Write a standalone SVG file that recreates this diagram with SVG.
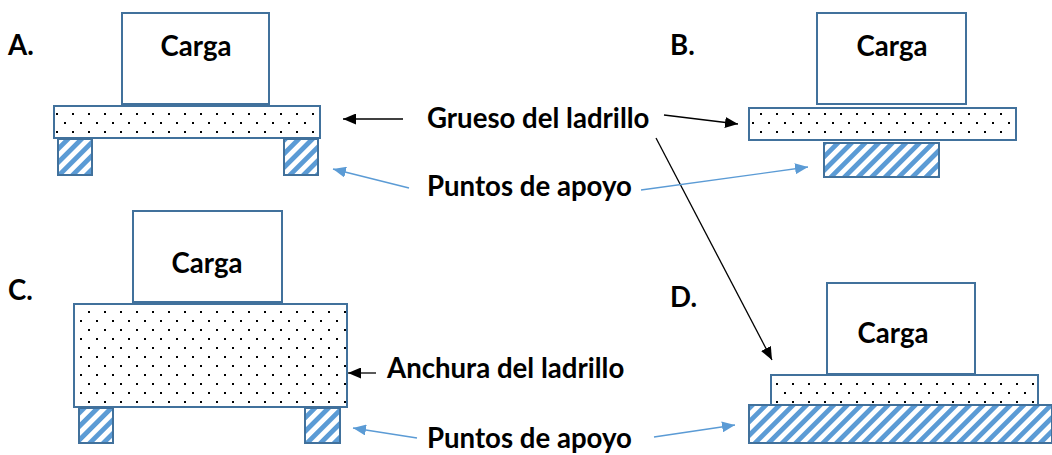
<svg xmlns="http://www.w3.org/2000/svg" width="1052" height="455" viewBox="0 0 1052 455">
<style>
.bx{fill:#fff;stroke:#41719C;stroke-width:2}
.brick{fill:url(#dots);stroke:#41719C;stroke-width:2}
.sup{fill:url(#hatch);stroke:#41719C;stroke-width:2}
.t{font-family:Lato,"Liberation Sans",sans-serif;font-weight:bold;font-size:27.6px;fill:#000}
.ca{text-anchor:middle}
.ak{stroke:#000;stroke-width:1.3;fill:none;marker-end:url(#ahk)}
.ab{stroke:#5B9BD5;stroke-width:1.3;fill:none;marker-end:url(#ahb)}
</style>
<defs>
<pattern id="dots" patternUnits="userSpaceOnUse" width="16" height="18" x="2" y="0">
<rect width="16" height="18" fill="#fff"/>
<rect x="6" y="5" width="2" height="2" fill="#000"/>
<rect x="14" y="14" width="2" height="2" fill="#000"/>
</pattern>
<pattern id="hatch" patternUnits="userSpaceOnUse" width="9.6" height="9.6" patternTransform="rotate(45)">
<rect width="9.6" height="9.6" fill="#fff"/>
<rect width="4.8" height="9.6" fill="#5B9BD5"/>
</pattern>
<marker id="ahk" markerWidth="13" markerHeight="11" refX="13" refY="5.5" orient="auto" markerUnits="userSpaceOnUse">
<path d="M0,0 L13,5.5 L0,11 Z" fill="#000"/>
</marker>
<marker id="ahb" markerWidth="13" markerHeight="11" refX="13" refY="5.5" orient="auto" markerUnits="userSpaceOnUse">
<path d="M0,0 L13,5.5 L0,11 Z" fill="#5B9BD5"/>
</marker>
</defs>
<rect width="1052" height="455" fill="#fff"/>

<g id="A">
<text class="t" x="8" y="55">A.</text>
<rect class="bx" x="122" y="13" width="147" height="91"/>
<text class="t ca" x="196" y="56">Carga</text>
<rect class="brick" x="54" y="106" width="266" height="32"/>
<rect class="sup" x="58" y="139" width="34" height="36"/>
<rect class="sup" x="284" y="139" width="34" height="36"/>
</g>

<g id="B">
<text class="t" x="670" y="55">B.</text>
<rect class="bx" x="817" y="13" width="149" height="91"/>
<text class="t ca" x="892" y="56">Carga</text>
<rect class="brick" x="749" y="108" width="267" height="32"/>
<rect class="sup" x="824" y="143" width="115" height="34"/>
</g>

<g id="C">
<text class="t" x="8" y="300">C.</text>
<rect class="bx" x="133" y="211" width="149" height="91"/>
<text class="t ca" x="207" y="273">Carga</text>
<rect class="brick" x="74" y="304" width="273" height="103"/>
<rect class="sup" x="79" y="408" width="34" height="35"/>
<rect class="sup" x="305" y="408" width="35" height="35"/>
</g>

<g id="D">
<text class="t" x="670" y="307">D.</text>
<rect class="bx" x="827" y="283" width="148" height="91"/>
<text class="t ca" x="893" y="343">Carga</text>
<rect class="brick" x="771" y="375" width="267" height="30"/>
<rect class="sup" x="749" y="405" width="303" height="38"/>
</g>

<g id="labels">
<text class="t" x="427" y="128">Grueso del ladrillo</text>
<text class="t" x="427" y="196">Puntos de apoyo</text>
<text class="t" x="387" y="378">Anchura del ladrillo</text>
<text class="t" x="427" y="448">Puntos de apoyo</text>
</g>

<g id="connectors">
<line class="ak" x1="403" y1="119" x2="343" y2="119"/>
<line class="ak" x1="664" y1="115" x2="738" y2="124"/>
<line class="ak" x1="656" y1="138" x2="772" y2="360"/>
<line class="ak" x1="376" y1="373" x2="348" y2="373"/>
<line class="ab" x1="409" y1="188" x2="333" y2="169"/>
<line class="ab" x1="641" y1="190" x2="808" y2="167"/>
<line class="ab" x1="417" y1="438" x2="353" y2="428"/>
<line class="ab" x1="654" y1="437" x2="735" y2="425"/>
</g>
</svg>
